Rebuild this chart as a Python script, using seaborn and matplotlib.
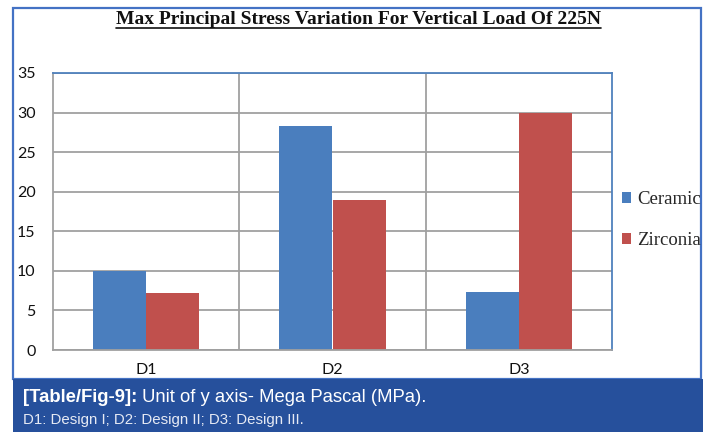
import matplotlib
matplotlib.use("Agg")
import matplotlib.pyplot as plt
from matplotlib.patches import Rectangle
from matplotlib.lines import Line2D
import seaborn as sns
import pandas as pd

# Data: max principal stress (MPa) per design and crown material
designs = ["D1", "D2", "D3"]
ceramic = [10.0, 28.3, 7.3]
zirconia = [7.2, 19.0, 30.0]
materials = ["Ceramic", "Zirconia"]
y_ticks = [0, 5, 10, 15, 20, 25, 30, 35]

title = "Max Principal Stress Variation For Vertical Load Of 225N"
caption_bold = "[Table/Fig-9]:"
caption_rest = " Unit of y axis- Mega Pascal (MPa)."
caption_line2 = "D1: Design I; D2: Design II; D3: Design III."

df = pd.DataFrame({
    "design": designs * 2,
    "material": [materials[0]] * 3 + [materials[1]] * 3,
    "stress": ceramic + zirconia,
})

sns.set_theme(style="white")
W, H = 715, 432
fig = plt.figure(figsize=(W / 100, H / 100), dpi=100)
fig.patch.set_facecolor("white")

def fx(px):
    return px / W

def fy(py):
    return 1 - py / H

# outer frame
fig.add_artist(Rectangle((fx(13), fy(379)), fx(701) - fx(13), fy(8) - fy(379),
                         transform=fig.transFigure, fill=False,
                         edgecolor="#4472C4", linewidth=1.6))

ax = fig.add_axes([fx(53), fy(350), fx(612) - fx(53), fy(73) - fy(350)])
palette = {"Ceramic": "#4A7EBE", "Zirconia": "#C0504D"}
sns.barplot(data=df, x="design", y="stress", hue="material", order=designs,
            hue_order=materials, palette=palette, width=0.57, gap=0,
            linewidth=0, saturation=1, ax=ax, legend=False)

ax.set_xlim(-0.5, 2.5)
ax.set_ylim(0, 35)
ax.set_yticks(y_ticks)
ax.set_yticklabels([str(t) for t in y_ticks])
ax.set_xlabel("")
ax.set_ylabel("")
ax.set_xticks(range(len(designs)))
ax.set_xticks([0.5, 1.5], minor=True)
ax.set_xticklabels(designs)

ax.grid(axis="y", which="major", color="#A0A0A0", linewidth=1.3)
ax.grid(axis="x", which="minor", color="#A0A0A0", linewidth=1.3)
ax.grid(axis="x", which="major", visible=False)
ax.set_axisbelow(True)

for side in ["left", "bottom"]:
    ax.spines[side].set_color("#A0A0A0")
    ax.spines[side].set_linewidth(1.3)
for side in ["top", "right"]:
    ax.spines[side].set_color("#4F81BD")
    ax.spines[side].set_linewidth(1.3)

ax.tick_params(axis="y", which="both", length=0, pad=12.5, labelsize=11.5,
               labelcolor="#111111")
ax.tick_params(axis="x", which="both", length=0, pad=9, labelsize=11.5,
               labelcolor="#111111")
for lab in ax.get_yticklabels() + ax.get_xticklabels():
    lab.set_family("Lato")

# legend
handles = [Rectangle((0, 0), 1, 1, facecolor=palette[m], edgecolor="none")
           for m in materials]
fig.legend(handles, materials, loc="center left",
           bbox_to_anchor=(fx(622), fy(220)), frameon=False,
           prop={"family": "Liberation Serif", "size": 13.5},
           handlelength=0.5, handleheight=0.5, handletextpad=0.3,
           labelspacing=1.3, borderaxespad=0, borderpad=0)

# title with underline
t = fig.text(fx(358), fy(19), title, ha="center", va="center",
             family="Liberation Serif", weight="bold", fontsize=14,
             color="#111111")
fig.canvas.draw()
bb = t.get_window_extent(fig.canvas.get_renderer())
fig.add_artist(Line2D([bb.x0, bb.x1], [bb.y0 - 0.5, bb.y0 - 0.5],
                      transform=None, color="#111111", linewidth=1.2))

# caption band
fig.add_artist(Rectangle((fx(13), 0), fx(703) - fx(13), fy(379),
                         transform=fig.transFigure, facecolor="#26509C",
                         edgecolor="none"))
cb = fig.text(fx(23), fy(398), caption_bold, ha="left", va="center",
              family="Liberation Sans", weight="bold", fontsize=13.3,
              color="white")
fig.canvas.draw()
bb2 = cb.get_window_extent(fig.canvas.get_renderer())
fig.text(bb2.x1 / W, fy(398), caption_rest, ha="left", va="center",
         family="Liberation Sans", fontsize=13.3, color="white")
fig.text(fx(23), fy(420), caption_line2, ha="left", va="center",
         family="Liberation Sans", fontsize=10.8, color="#E6EAF4")

fig.savefig("out.png", dpi=100)
